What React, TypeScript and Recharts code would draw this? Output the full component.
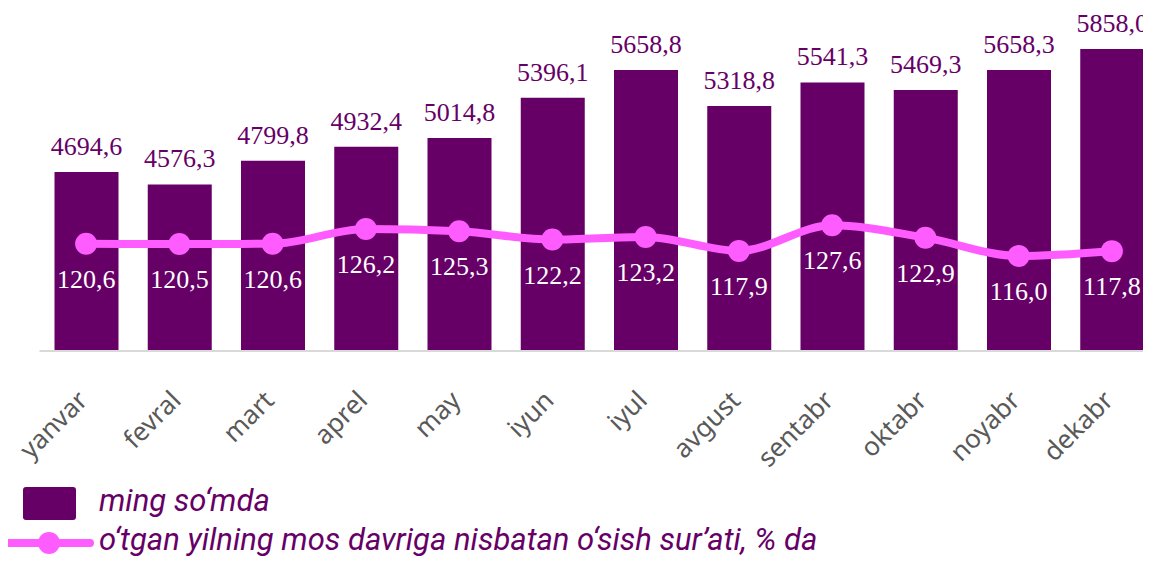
import { ComposedChart, Bar, Line, XAxis, YAxis, LabelList, Customized } from 'recharts';

const months = ['yanvar', 'fevral', 'mart', 'aprel', 'may', 'iyun', 'iyul', 'avgust', 'sentabr', 'oktabr', 'noyabr', 'dekabr'];
const amounts = [4694.6, 4576.3, 4799.8, 4932.4, 5014.8, 5396.1, 5658.8, 5318.8, 5541.3, 5469.3, 5658.3, 5858.0];
const growth = [120.6, 120.5, 120.6, 126.2, 125.3, 122.2, 123.2, 117.9, 127.6, 122.9, 116.0, 117.8];

const barLabel = 'ming so‘mda';
const lineLabel = 'o‘tgan yilning mos davriga nisbatan o‘sish sur’ati, % da';

const PURPLE = '#660066';
const PINK = '#FF5CFF';

const fmt = (v: number) => v.toFixed(1).replace('.', ',');

const data = months.map((m, i) => ({ month: m, amount: amounts[i], growth: growth[i] }));

const MonthTick = (props: any) => {
  const { x, y, payload } = props;
  return (
    <g transform={`translate(${x + 3},${y + 43})`}>
      <text transform="rotate(-45)" textAnchor="end" fill="#595959" fontFamily="Noto Sans" fontSize={26}>
        {payload.value}
      </text>
    </g>
  );
};

const renderBarValue = (props: any) => {
  const { x, y, width, value } = props;
  return (
    <text
      key={`b-${x}`}
      x={Number(x) + Number(width) / 2}
      y={Number(y) - 17}
      textAnchor="middle"
      fill={PURPLE}
      fontFamily="Liberation Serif"
      fontSize={26}
    >
      {fmt(Number(value))}
    </text>
  );
};

const renderLineValue = (props: any) => {
  const { x, y, value } = props;
  return (
    <text
      key={`l-${x}`}
      x={Number(x)}
      y={Number(y) + 44}
      textAnchor="middle"
      fill="#FFFFFF"
      fontFamily="Liberation Serif"
      fontSize={26}
    >
      {fmt(Number(value))}
    </text>
  );
};

// legend, in svg coords (the svg sits at the 8px body margin)
const ChartLegend = () => (
  <g>
    <rect x={15} y={479} width={53} height={33} rx={3} fill={PURPLE} />
    <text x={91} y={503} fill={PURPLE} fontFamily="Roboto" fontStyle="italic" fontSize={31}>
      {barLabel}
    </text>
    <line x1={0} y1={535} x2={82} y2={535} stroke={PINK} strokeWidth={8} strokeLinecap="round" />
    <circle cx={41} cy={535} r={11} fill={PINK} />
    <text x={91} y={542} fill={PURPLE} fontFamily="Roboto" fontStyle="italic" fontSize={31}>
      {lineLabel}
    </text>
  </g>
);

export default function App() {
  return (
    <ComposedChart
      width={1143}
      height={549}
      data={data}
      margin={{ top: 26, right: -7.5, left: 31.5, bottom: 146 }}
    >
      <XAxis
        dataKey="month"
        height={60}
        axisLine={{ stroke: '#D9D9D9', strokeWidth: 2 }}
        tickLine={false}
        interval={0}
        tick={<MonthTick />}
      />
      <YAxis yAxisId="left" hide domain={[3000, 6000]} />
      <YAxis yAxisId="right" hide orientation="right" domain={[80, 200]} />
      <Bar yAxisId="left" dataKey="amount" fill={PURPLE} barSize={64} isAnimationActive={false}>
        <LabelList dataKey="amount" content={renderBarValue} />
      </Bar>
      <Line
        yAxisId="right"
        type="monotone"
        dataKey="growth"
        stroke={PINK}
        strokeWidth={8}
        dot={{ r: 11, fill: PINK, stroke: 'none' }}
        activeDot={false}
        isAnimationActive={false}
      >
        <LabelList dataKey="growth" content={renderLineValue} />
      </Line>
      <Customized component={ChartLegend} />
    </ComposedChart>
  );
}
